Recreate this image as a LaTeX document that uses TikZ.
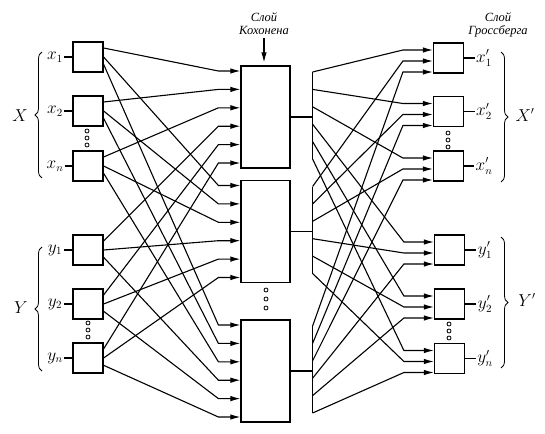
\documentclass[tikz,border=0pt]{standalone}
\usepackage{fontspec}
\newfontfamily\cyrfont{Liberation Serif}
\usetikzlibrary{calc,arrows.meta,decorations.pathreplacing}

\begin{document}
\begin{tikzpicture}[x=1pt, y=-1pt,
  wire/.style={line width=1.1pt},
  arr/.style={-{Latex[length=10pt,width=5.5pt]}},
  kfeed/.style={wire, arr},
  gfeed/.style={wire, arr},
  unit/.style={draw, line width=1.2pt, minimum width=30pt, minimum height=30pt, inner sep=0pt},
  kbox/.style={draw, line width=1.2pt, minimum width=49pt, minimum height=102pt, inner sep=0pt},
  lbl/.style={font=\fontsize{16}{18}\selectfont, inner sep=1.5pt},
  layername/.style={font=\cyrfont\itshape\fontsize{12.5}{13}\selectfont, align=center, inner sep=1pt},
  brc/.style={decorate, decoration={brace, amplitude=7pt}, line width=0.8pt},
  ring/.style={line width=0.8pt}]
  \useasboundingbox (0,0) rectangle (545,433);

  % input units
  \node[unit] (x1) at (88,57) {};
  \node[unit] (x2) at (88,111) {};
  \node[unit] (xn) at (88,166) {};
  \node[unit] (y1) at (88,250) {};
  \node[unit] (y2) at (88,304) {};
  \node[unit] (yn) at (88,358) {};
  \node[lbl] (lx1) at (55,57) {$x_1$};
  \node[lbl] (lx2) at (55,111) {$x_2$};
  \node[lbl] (lxn) at (55,166) {$x_n$};
  \node[lbl] (ly1) at (55,250) {$y_1$};
  \node[lbl] (ly2) at (55,304) {$y_2$};
  \node[lbl] (lyn) at (55,358) {$y_n$};
  \draw[wire] (lx1) -- (x1);
  \draw[wire] (lx2) -- (x2);
  \draw[wire] (lxn) -- (xn);
  \draw[wire] (ly1) -- (y1);
  \draw[wire] (ly2) -- (y2);
  \draw[wire] (lyn) -- (yn);
  \draw[brc] (42,178) -- (42,52);
  \draw[brc] (42,371) -- (42,247);
  \node[lbl] (X) at (20,116) {$X$};
  \node[lbl] (Y) at (21,308) {$Y$};
  \draw[ring] (87,131) circle[radius=2] (87,138) circle[radius=2] (87,145) circle[radius=2];
  \draw[ring] (88,323) circle[radius=2] (88,330) circle[radius=2] (88,337) circle[radius=2];

  % Kohonen layer
  \node[kbox] (K1) at (265.5,117) {};
  \node[kbox] (K2) at (265.5,231.5) {};
  \node[kbox] (K3) at (265.5,371) {};
  \node[layername] (kname) at (264,24) {Слой\\Кохонена};
  \draw[wire, arr, shorten <=2pt, shorten >=3pt] (kname.south) -- (kname.south |- K1.north);
  \draw[ring] (266,290) circle[radius=2] (266,299) circle[radius=2] (266,308) circle[radius=2];

  \draw[kfeed] (x1.30) -- ($(K1.west)+(-22,-46)$) -- ++(22,0);
  \draw[kfeed] (x2.30) -- ($(K1.west)+(-22,-27.6)$) -- ++(22,0);
  \draw[kfeed] (xn.30) -- ($(K1.west)+(-22,-9.2)$) -- ++(22,0);
  \draw[kfeed] (y1.30) -- ($(K1.west)+(-22,9.2)$) -- ++(22,0);
  \draw[kfeed] (y2.30) -- ($(K1.west)+(-22,27.6)$) -- ++(22,0);
  \draw[kfeed] (yn.30) -- ($(K1.west)+(-22,46)$) -- ++(22,0);
  \draw[kfeed] (x1.east) -- ($(K2.west)+(-22,-46)$) -- ++(22,0);
  \draw[kfeed] (x2.east) -- ($(K2.west)+(-22,-27.6)$) -- ++(22,0);
  \draw[kfeed] (xn.east) -- ($(K2.west)+(-22,-9.2)$) -- ++(22,0);
  \draw[kfeed] (y1.east) -- ($(K2.west)+(-22,9.2)$) -- ++(22,0);
  \draw[kfeed] (y2.east) -- ($(K2.west)+(-22,27.6)$) -- ++(22,0);
  \draw[kfeed] (yn.east) -- ($(K2.west)+(-22,46)$) -- ++(22,0);
  \draw[kfeed] (x1.-25) -- ($(K3.west)+(-22,-46)$) -- ++(22,0);
  \draw[kfeed] (x2.-25) -- ($(K3.west)+(-22,-27.6)$) -- ++(22,0);
  \draw[kfeed] (xn.-25) -- ($(K3.west)+(-22,-9.2)$) -- ++(22,0);
  \draw[kfeed] (y1.-25) -- ($(K3.west)+(-22,9.2)$) -- ++(22,0);
  \draw[kfeed] (y2.-25) -- ($(K3.west)+(-22,27.6)$) -- ++(22,0);
  \draw[kfeed] (yn.-25) -- ($(K3.west)+(-22,46)$) -- ++(22,0);

  % Grossberg layer
  \node[unit] (gx1) at (448.5,58) {};
  \node[unit] (gx2) at (448.5,111.5) {};
  \node[unit] (gxn) at (448.5,166) {};
  \node[unit] (gy1) at (449.5,250) {};
  \node[unit] (gy2) at (449.5,304) {};
  \node[unit] (gyn) at (449.5,358.5) {};
  \node[lbl] (lgx1) at (484,58) {$x'_1$};
  \node[lbl] (lgx2) at (484,111.5) {$x'_2$};
  \node[lbl] (lgxn) at (484,166) {$x'_n$};
  \node[lbl] (lgy1) at (485,250) {$y'_1$};
  \node[lbl] (lgy2) at (485,304) {$y'_2$};
  \node[lbl] (lgyn) at (485,358.5) {$y'_n$};
  \draw[wire] (gx1) -- (lgx1);
  \draw[wire] (gx2) -- (lgx2);
  \draw[wire] (gxn) -- (lgxn);
  \draw[wire] (gy1) -- (lgy1);
  \draw[wire] (gy2) -- (lgy2);
  \draw[wire] (gyn) -- (lgyn);
  \draw[brc] (501,52) -- (501,182);
  \draw[brc] (501,237) -- (501,368);
  \node[lbl] (Xp) at (525,115) {$X'$};
  \node[lbl] (Yp) at (527,300) {$Y'$};
  \node[layername] (gname) at (498,25) {Слой\\Гроссберга};
  \draw[ring] (448,133) circle[radius=2] (448,140) circle[radius=2] (448,147) circle[radius=2];
  \draw[ring] (449,324) circle[radius=2] (449,331) circle[radius=2] (449,338) circle[radius=2];

  % Kohonen outputs
  \coordinate (B1) at ($(K1.east)+(22,0)$);
  \coordinate (B2) at ($(K2.east)+(22,0)$);
  \coordinate (B3) at ($(K3.east)+(22,0)$);
  \draw[wire] (K1.east) -- (B1);
  \draw[wire] (K2.east) -- (B2);
  \draw[wire] (K3.east) -- (B3);
  \draw[wire] ($(B1)+(0,-45)$) -- ($(B1)+(0,42)$);
  \draw[wire] ($(B2)+(0,-45)$) -- ($(B2)+(0,42)$);
  \draw[wire] ($(B3)+(0,-45)$) -- ($(B3)+(0,42)$);

  \draw[gfeed] ($(B1)+(0,-45)$) -- ($(gx1.west)+(-30,-8)$) -- ++(30,0);
  \draw[gfeed] ($(B1)+(0,-27.6)$) -- ($(gx2.west)+(-30,-8)$) -- ++(30,0);
  \draw[gfeed] ($(B1)+(0,-10.2)$) -- ($(gxn.west)+(-30,-8)$) -- ++(30,0);
  \draw[gfeed] ($(B1)+(0,7.2)$) -- ($(gy1.west)+(-30,-8)$) -- ++(30,0);
  \draw[gfeed] ($(B1)+(0,24.6)$) -- ($(gy2.west)+(-30,-8)$) -- ++(30,0);
  \draw[gfeed] ($(B1)+(0,42)$) -- ($(gyn.west)+(-30,-8)$) -- ++(30,0);
  \draw[gfeed] ($(B2)+(0,-45)$) -- ($(gx1.west)+(-30,3)$) -- ++(30,0);
  \draw[gfeed] ($(B2)+(0,-27.6)$) -- ($(gx2.west)+(-30,3)$) -- ++(30,0);
  \draw[gfeed] ($(B2)+(0,-10.2)$) -- ($(gxn.west)+(-30,3)$) -- ++(30,0);
  \draw[gfeed] ($(B2)+(0,7.2)$) -- ($(gy1.west)+(-30,3)$) -- ++(30,0);
  \draw[gfeed] ($(B2)+(0,24.6)$) -- ($(gy2.west)+(-30,3)$) -- ++(30,0);
  \draw[gfeed] ($(B2)+(0,42)$) -- ($(gyn.west)+(-30,3)$) -- ++(30,0);
  \draw[gfeed] ($(B3)+(0,-45)$) -- ($(gx1.west)+(-30,14)$) -- ++(30,0);
  \draw[gfeed] ($(B3)+(0,-27.6)$) -- ($(gx2.west)+(-30,14)$) -- ++(30,0);
  \draw[gfeed] ($(B3)+(0,-10.2)$) -- ($(gxn.west)+(-30,14)$) -- ++(30,0);
  \draw[gfeed] ($(B3)+(0,7.2)$) -- ($(gy1.west)+(-30,14)$) -- ++(30,0);
  \draw[gfeed] ($(B3)+(0,24.6)$) -- ($(gy2.west)+(-30,14)$) -- ++(30,0);
  \draw[gfeed] ($(B3)+(0,42)$) -- ($(gyn.west)+(-30,14)$) -- ++(30,0);
\end{tikzpicture}
\end{document}
